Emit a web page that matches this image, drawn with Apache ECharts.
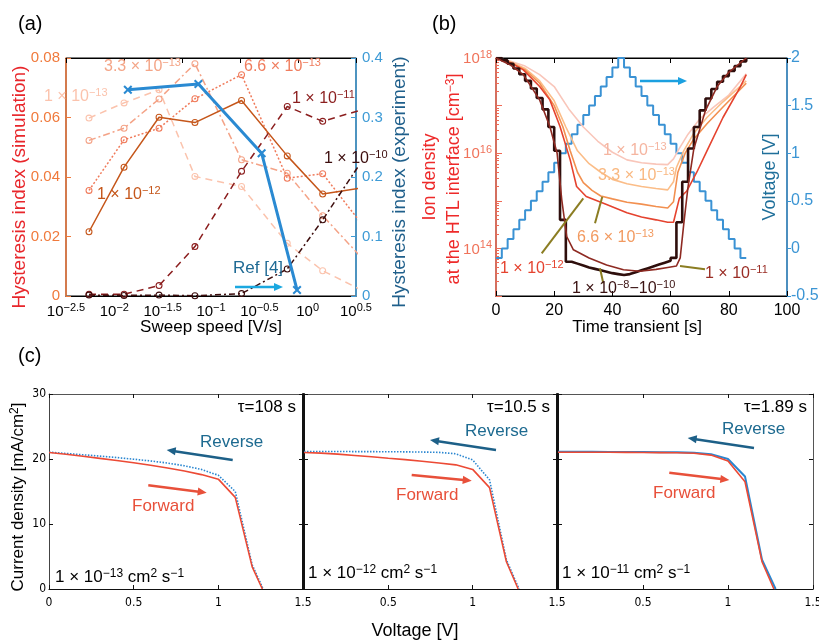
<!DOCTYPE html>
<html><head><meta charset="utf-8">
<script src="https://cdn.jsdelivr.net/npm/echarts@6/dist/echarts.min.js"></script>
<style>html,body{margin:0;padding:0;background:#fff}#c{width:819px;height:641px}</style>
</head><body><div id="c"></div><script>
const FONT = 'Liberation Sans, Arial, sans-serif';
const NARROW = 'Liberation Sans Narrow, DejaVu Sans Condensed, sans-serif';

// ---------- (a) hysteresis index vs sweep speed ----------
const sweepSpeed = [0.00547, 0.0126, 0.029, 0.0682, 0.207, 0.615, 1.43, 3.98];
const hi_1e13  = [0.0598, 0.0649, 0.0693, 0.0402, 0.0368, 0.0177, 0.0085, 0.0013];
const hi_33e13 = [0.0523, 0.0564, 0.0662, 0.0781, 0.0458, 0.0413, 0.0270, 0.0114];
const hi_66e13 = [0.0355, 0.0525, 0.0564, 0.0663, 0.0744, 0.0396, 0.0411, 0.0225];
const hi_1e12  = [0.0216, 0.0433, 0.0601, 0.0583, 0.0657, 0.0471, 0.0343, 0.0365];
const hi_1e11  = [0.0006, 0.0006, 0.0035, 0.0166, 0.0419, 0.0637, 0.0587, 0.0630];
const hi_1e10  = [0.0003, 0.0002, 0.0003, 0.0001, 0.0008, 0.0091, 0.0256, 0.0473];
const expSpeed = [0.0138, 0.0741, 0.334, 0.776];
const expHI    = [0.3467, 0.3563, 0.240, 0.0101];
const speedTickExp = ['−2.5', '−2', '−1.5', '−1', '−0.5', '0', '0.5'];

// ---------- (b) ion density (log10 cm^-3) vs time ----------
const t_1e13 = [0,5,10,15,20,25,30,35,40,45,50,55,59,61,63,66,70,75,80,86];
const n_1e13 = [18,17.93,17.83,17.65,17.4,16.93,16.55,16.25,16.02,15.86,15.8,15.77,15.76,15.88,16.1,16.4,16.72,16.98,17.22,17.67];
const t_33e13 = [0,5,10,15,20,24,28,32,36,40,45,50,55,59,61,62,64.5,68,72.5,78,86];
const n_33e13 = [18,17.92,17.78,17.52,17.1,16.55,16.05,15.78,15.6,15.45,15.36,15.3,15.26,15.23,15.4,15.7,16.05,16.42,16.75,17.08,17.52];
const t_66e13 = [0,5,10,15,20,23,25.5,28,30,33,36,40,45,50,55,59,61,62.5,65,68,72.5,78,86];
const n_66e13 = [18,17.9,17.75,17.47,17.0,16.55,16.05,15.6,15.38,15.22,15.1,15.04,14.97,14.93,14.88,14.85,14.98,15.6,16.0,16.3,16.62,16.97,17.47];
const t_1e12 = [0,5,9.4,15,18.5,22,25.5,27.7,31,38,45,50,55,59,61,63,65.5,69,72.5,78,84,86];
const n_1e12 = [18,17.9,17.75,17.4,17.12,16.56,15.86,15.3,15.09,14.92,14.75,14.66,14.6,14.55,14.55,15.05,15.2,15.6,16.05,16.75,17.4,17.65];
const t_1e11 = [0,5,9.4,15,18.5,21,22.6,24.3,26.6,32,38,43.8,49.5,55,59,62,63.3,64.5,66,68,72,76,80,86];
const n_1e11 = [18,17.85,17.65,17.12,16.56,16.0,15.02,14.25,13.97,13.8,13.65,13.55,13.52,13.56,13.6,13.63,13.8,14.5,15.3,16.1,16.9,17.4,17.7,18.0];
const stepTime = [0,2,4,6,8,10,12,14,16,18,20,22,24,26,28,30,32,34,36,38,40,42,44,46,48,50,52,54,56,58,60,62,64,66,68,70,72,74,76,78,80,82,84,86];
const stepVoltage = [-0.1,0,0.1,0.2,0.3,0.4,0.5,0.6,0.7,0.8,0.9,1.0,1.1,1.2,1.3,1.4,1.5,1.6,1.7,1.8,1.9,2.0,
  1.9,1.8,1.7,1.6,1.5,1.4,1.3,1.2,1.1,1.0,0.9,0.8,0.7,0.6,0.5,0.4,0.3,0.2,0.1,0,-0.1,-0.1];
const n_dark = [18.0,17.95,17.88,17.78,17.66,17.52,17.36,17.16,16.92,16.55,16.05,14.6,13.72,13.68,13.64,13.6,13.57,13.54,13.51,13.48,13.46,13.44,
  13.46,13.5,13.54,13.58,13.62,13.66,13.7,13.74,13.8,14.55,15.4,16.1,16.55,16.9,17.15,17.35,17.5,17.62,17.73,17.83,17.93,18.0];

// ---------- (c) J-V curves ----------
const jvVoltage = [0,0.1,0.2,0.3,0.4,0.5,0.6,0.7,0.8,0.9,1.0,1.1,1.2];
const fwd_1e13 = [21.0,20.72,20.42,20.1,19.77,19.42,19.05,18.62,18.15,17.6,16.9,14.1,3.4];
const rev_1e13 = [21.05,20.85,20.65,20.45,20.22,19.97,19.7,19.38,18.95,18.4,17.5,15.0,3.7];
const fwd_1e12 = [21.0,20.9,20.75,20.55,20.35,20.12,19.9,19.65,19.38,19.1,18.4,15.6,4.2];
const rev_1e12 = [21.15,21.15,21.15,21.14,21.13,21.12,21.1,21.07,21.02,20.8,19.85,16.8,4.5];
const fwd_1e11 = [21.05,21.05,21.04,21.03,21.02,21.0,20.98,20.95,20.88,20.6,19.7,16.5,4.2];
const rev_1e11 = [21.1,21.1,21.1,21.09,21.08,21.07,21.05,21.02,20.95,20.75,20.0,17.3,4.5];
const vocFwd = [1.26, 1.27, 1.27];
const vocRev = [1.265, 1.275, 1.28];

// ---------------------------------------------------------------
const RING = 'path://M0,5A5,5,0,1,0,10,5A5,5,0,1,0,0,5ZM1.5,5A3.5,3.5,0,1,1,8.5,5A3.5,3.5,0,1,1,1.5,5Z';
const CROSS = 'path://M0,1.6L1.6,0L5,3.4L8.4,0L10,1.6L6.6,5L10,8.4L8.4,10L5,6.6L1.6,10L0,8.4L3.4,5Z';

function supRich(color, size, supSize, raise, font) {
  return {
    b: {color, fontSize: size, fontFamily: font || FONT, verticalAlign: 'bottom'},
    s: {color, fontSize: supSize, fontFamily: font || FONT, verticalAlign: 'bottom', padding: [0, 0, raise, 0]}
  };
}

const series = [];
function sim(vals, color, dash, z) {
  series.push({type: 'line', xAxisIndex: 0, yAxisIndex: 0, z: z || 2,
    data: sweepSpeed.map((s, i) => [Math.log10(s), vals[i]]),
    symbol: RING, symbolSize: 7, lineStyle: {color, width: 1.5, type: dash},
    itemStyle: {color}, silent: true});
}
sim(hi_1e13, '#fbc3ad', [7, 5]);
sim(hi_33e13, '#f4a387', [7, 3, 2, 3]);
sim(hi_66e13, '#f07a5a', [2, 2]);
sim(hi_1e12, '#c5561a', 'solid', 3);
sim(hi_1e11, '#8b1e1e', [7, 5], 3);
sim(hi_1e10, '#3c0d0d', [6, 3, 2, 3], 3);
series.push({type: 'line', xAxisIndex: 0, yAxisIndex: 1, z: 5,
  data: expSpeed.map((s, i) => [Math.log10(s), expHI[i]]),
  symbol: CROSS, symbolSize: 9, lineStyle: {color: '#2a8ad2', width: 3}, itemStyle: {color: '#2a8ad2'}});

function ion(t, n, color, width, step) {
  series.push({type: 'line', xAxisIndex: 2, yAxisIndex: 2, showSymbol: false, symbol: 'none',
    step: step || false, data: t.map((x, i) => [x, Math.pow(10, n[i])]),
    lineStyle: {color, width: width || 1.6}});
}
series.push({type: 'line', xAxisIndex: 2, yAxisIndex: 3, symbol: 'none', step: 'end', z: 1,
  data: stepTime.map((x, i) => [x, stepVoltage[i]]), lineStyle: {color: '#3a92d4', width: 2}});
ion(t_1e13, n_1e13, '#f9c6ba');
ion(t_33e13, n_33e13, '#fbbd88');
ion(t_66e13, n_66e13, '#f29050');
ion(t_1e12, n_1e12, '#e5432f');
ion(stepTime, n_dark, '#2e0e0c', 2.6, 'end');
ion(t_1e11, n_1e11, '#8e2a22', 1.6);

const fwdSets = [fwd_1e13, fwd_1e12, fwd_1e11];
const revSets = [rev_1e13, rev_1e12, rev_1e11];
for (let k = 0; k < 3; k++) {
  series.push({type: 'line', xAxisIndex: 4 + k, yAxisIndex: 4 + k, symbol: 'none', z: 2,
    data: jvVoltage.map((v, i) => [v, revSets[k][i]]).concat([[vocRev[k], 0]]),
    lineStyle: {color: '#2a86d0', width: k === 2 ? 2 : 1.6, type: k === 2 ? 'solid' : [1.5, 1.5]}});
  series.push({type: 'line', xAxisIndex: 4 + k, yAxisIndex: 4 + k, symbol: 'none', z: 3,
    data: jvVoltage.map((v, i) => [v, fwdSets[k][i]]).concat([[vocFwd[k], 0]]),
    lineStyle: {color: '#ec4a35', width: 1.6}});
}

// ---------------- axes ----------------
const noSplit = {show: false};
const xAxis = [
  {type: 'value', gridIndex: 0, min: -2.5, max: 0.5, interval: 0.5, splitLine: noSplit,
    axisLine: {onZero: false, lineStyle: {color: '#000'}}, axisTick: {show: false},
    axisLabel: {margin: 6, hideOverlap: false, formatter: v => '{b|10}{s|' + speedTickExp[Math.round((v + 2.5) / 0.5)] + '}',
      rich: supRich('#000', 15, 11, 6)}},
  {type: 'value', gridIndex: 0, position: 'top', min: 0, max: 5, interval: 1, splitLine: noSplit,
    axisLine: {onZero: false, lineStyle: {color: '#000'}}, axisTick: {inside: true, length: 5, lineStyle: {color: '#000'}}, axisLabel: {show: false}},
  {type: 'value', gridIndex: 1, min: 0, max: 100, interval: 20, splitLine: noSplit,
    axisLine: {onZero: false, lineStyle: {color: '#000'}}, axisTick: {inside: true, length: 5, lineStyle: {color: '#000'}},
    axisLabel: {color: '#000', fontSize: 16, fontFamily: FONT, margin: 7}},
  {type: 'value', gridIndex: 1, position: 'top', min: 0, max: 100, interval: 20, splitLine: noSplit,
    axisLine: {onZero: false, lineStyle: {color: '#000'}}, axisTick: {inside: true, length: 5, lineStyle: {color: '#000'}}, axisLabel: {show: false}}
];
for (let k = 0; k < 3; k++) {
  xAxis.push({type: 'value', gridIndex: 2 + k, min: 0, max: 1.5, interval: 0.5, splitLine: noSplit,
    axisLine: {onZero: false, lineStyle: {color: '#111', width: 1.2}}, axisTick: {inside: true, length: 4, lineStyle: {color: '#111'}},
    axisLabel: {color: '#000', fontSize: 12, fontFamily: NARROW, margin: 8, hideOverlap: false,
      formatter: v => (k > 0 && v === 0) ? '' : String(v)}});
}
for (let k = 0; k < 3; k++) {
  xAxis.push({type: 'value', gridIndex: 2 + k, position: 'top', min: 0, max: 1.5, interval: 0.5, splitLine: noSplit,
    axisLine: {onZero: false, lineStyle: {color: '#555'}}, axisTick: {inside: true, length: 4, lineStyle: {color: '#111'}}, axisLabel: {show: false}});
}
const yAxis = [
  {type: 'value', gridIndex: 0, min: 0, max: 0.08, interval: 0.02, splitLine: noSplit,
    axisLine: {onZero: false, lineStyle: {color: '#f07a3c', width: 1.5}}, axisTick: {inside: true, length: 5, lineStyle: {color: '#f07a3c'}},
    axisLabel: {color: '#f07a3c', fontSize: 15, fontFamily: FONT, margin: 6, formatter: v => String(+v.toFixed(2))}},
  {type: 'value', gridIndex: 0, position: 'right', min: 0, max: 0.4, interval: 0.1, splitLine: noSplit,
    axisLine: {onZero: false, lineStyle: {color: '#3e9bd6', width: 1.5}}, axisTick: {inside: true, length: 5, lineStyle: {color: '#3e9bd6'}},
    axisLabel: {color: '#3e9bd6', fontSize: 15, fontFamily: FONT, margin: 6, formatter: v => String(+v.toFixed(1))}},
  {type: 'log', logBase: 10, gridIndex: 1, min: 1e13, max: 1e18, splitLine: noSplit,
    axisLine: {onZero: false, lineStyle: {color: '#f06a55', width: 1.5}}, axisTick: {inside: true, length: 6, lineStyle: {color: '#f06a55'}},
    minorTick: {show: true, splitNumber: 9, length: 3, lineStyle: {color: '#f06a55'}},
    axisLabel: {margin: 4, hideOverlap: false, rich: supRich('#f0735a', 15, 11, 6),
      formatter: v => { const e = Math.round(Math.log10(v)); return e % 2 === 0 ? '{b|10}{s|' + e + '}' : ''; }}},
  {type: 'value', gridIndex: 1, position: 'right', min: -0.5, max: 2, interval: 0.5, splitLine: noSplit,
    axisLine: {onZero: false, lineStyle: {color: '#3b95d4', width: 1.5}}, axisTick: {length: 4, lineStyle: {color: '#3b95d4'}},
    axisLabel: {color: '#3b95d4', fontSize: 16, fontFamily: FONT, margin: 4}}
];
for (let k = 0; k < 3; k++) {
  yAxis.push({type: 'value', gridIndex: 2 + k, min: 0, max: 30, interval: 10, splitLine: noSplit,
    axisLine: {onZero: false, lineStyle: {color: k === 0 ? '#444' : '#111', width: k === 0 ? 1 : 2}},
    axisTick: {inside: true, length: 4, lineStyle: {color: '#111'}},
    axisLabel: {show: k === 0, color: '#000', fontSize: 12, fontFamily: NARROW, margin: 3}});
}
for (let k = 0; k < 3; k++) {
  yAxis.push({type: 'value', gridIndex: 2 + k, position: 'right', min: 0, max: 30, interval: 10, splitLine: noSplit,
    axisLine: {onZero: false, lineStyle: {color: k === 2 ? '#555' : '#111', width: k === 2 ? 1 : 2}},
    axisTick: {inside: true, length: 4, lineStyle: {color: '#111'}}, axisLabel: {show: false}});
}

// ---------------- annotations ----------------
const G = [];
function T(x, y, text, o) {
  o = o || {};
  const st = {text, fill: o.color || '#000', fontSize: o.size || 16, fontFamily: o.font || FONT,
    align: o.align || 'left', verticalAlign: 'middle'};
  if (o.rich) st.rich = o.rich;
  G.push({type: 'text', x, y, rotation: o.rot || 0, z: 100, silent: true, style: st});
}
function ST(x, y, text, color, size, supSize, raise, o) {
  o = o || {};
  T(x, y, text, Object.assign({rich: supRich(color, size, supSize, raise, o.font), color}, o));
}
function arrow(x1, y1, x2, y2, color, w, head) {
  const a = Math.atan2(y2 - y1, x2 - x1);
  const hx = x2 - head * Math.cos(a), hy = y2 - head * Math.sin(a);
  const px = -Math.sin(a) * head * 0.45, py = Math.cos(a) * head * 0.45;
  G.push({type: 'line', z: 100, silent: true, shape: {x1, y1, x2: hx + Math.cos(a), y2: hy + Math.sin(a)}, style: {stroke: color, lineWidth: w}});
  G.push({type: 'polygon', z: 100, silent: true, shape: {points: [[x2, y2], [hx + px, hy + py], [hx - px, hy - py]]}, style: {fill: color}});
}
function seg(x1, y1, x2, y2, color, w) {
  G.push({type: 'line', z: 99, silent: true, shape: {x1, y1, x2, y2}, style: {stroke: color, lineWidth: w}});
}

// panel labels and titles
T(18, 24, '(a)', {size: 20});
T(432, 24, '(b)', {size: 20});
T(18, 356, '(c)', {size: 20});
T(20, 187, 'Hysteresis index (simulation)', {rot: Math.PI / 2, align: 'center', size: 19, color: '#e8262b'});
T(400, 182, 'Hysteresis index (experiment)', {rot: Math.PI / 2, align: 'center', size: 19, color: '#1f5f8b'});
T(211, 327, 'Sweep speed [V/s]', {align: 'center', size: 17});
T(430, 177, 'Ion density', {rot: Math.PI / 2, align: 'center', size: 18, color: '#ee2a2a'});
ST(454, 179, '{b|at the HTL interface [cm}{s|−3}{b|]}', '#ee2a2a', 18, 12, 6, {rot: Math.PI / 2, align: 'center'});
T(770, 177, 'Voltage [V]', {rot: Math.PI / 2, align: 'center', size: 18, color: '#1f6f9a'});
T(637, 327, 'Time transient [s]', {align: 'center', size: 17});
ST(18, 497, '{b|Current density [mA/cm}{s|2}{b|]}', '#000', 17, 12, 6, {rot: Math.PI / 2, align: 'center'});
T(415, 631, 'Voltage [V]', {align: 'center', size: 18});

// (a) annotations
ST(44, 96, '{b|1 × 10}{s|−13}', '#fbc3ad', 16, 11, 6);
ST(104, 66, '{b|3.3 × 10}{s|−13}', '#f4a587', 16, 11, 6);
ST(244, 66, '{b|6.6 × 10}{s|−13}', '#f07d5e', 16, 11, 6);
ST(292, 98, '{b|1 × 10}{s|−11}', '#8b1e1e', 16, 11, 6);
ST(324, 158, '{b|1 × 10}{s|−10}', '#3c0d0d', 16, 11, 6);
ST(97, 194, '{b|1 × 10}{s|−12}', '#c5561a', 16, 11, 6);
T(233, 268, 'Ref [4]', {size: 17, color: '#1f6a94'});
arrow(235, 287, 283, 287, '#1ba8e0', 2.5, 9);

// (b) annotations
ST(603, 150, '{b|1 × 10}{s|−13}', '#f5b5a0', 16, 11, 6);
ST(598, 175, '{b|3.3 × 10}{s|−13}', '#f9b880', 16, 11, 6);
ST(577, 237, '{b|6.6 × 10}{s|−13}', '#f29a60', 16, 11, 6);
ST(500, 268, '{b|1 × 10}{s|−12}', '#e5432f', 16, 11, 6);
ST(572, 288, '{b|1 × 10}{s|−8}{b|−10}{s|−10}', '#3a1212', 16, 11, 6);
ST(705, 273, '{b|1 × 10}{s|−11}', '#9a2d25', 16, 11, 6);
seg(541.7, 253.3, 583.3, 198.3, '#8b7d22', 2);
seg(602.3, 196.7, 595, 223.3, '#8b7d22', 2);
seg(600, 268.3, 603.3, 283.3, '#8b7d22', 2);
seg(680, 266, 705, 269.3, '#8b7d22', 2);
arrow(640, 81, 687, 81, '#1ba0e0', 2.5, 9);

// (c) annotations
const tauTxt = ['τ=108 s', 'τ=10.5 s', 'τ=1.89 s'];
const tauX = [296, 550, 807];
const dLbl = ['−13', '−12', '−11'];
const dX = [55, 308, 562];
const dY = [577, 573, 573];
const revPos = [[200, 442], [465, 431], [722, 429]];
const fwdPos = [[132, 506], [396, 495], [653, 493]];
const revArr = [[232.7, 460, 166.7, 450], [496, 450, 430, 440], [754, 448, 687.7, 438]];
const fwdArr = [[148.3, 485.3, 206.7, 492.7], [411.7, 475, 471.7, 480.7], [669.3, 472.7, 729.3, 480]];
for (let k = 0; k < 3; k++) {
  T(tauX[k], 407, tauTxt[k], {size: 17, align: 'right'});
  ST(dX[k], dY[k], '{b|1 × 10}{s|' + dLbl[k] + '}{b| cm}{s|2}{b| s}{s|−1}', '#000', 17, 12, 6);
  T(revPos[k][0], revPos[k][1], 'Reverse', {size: 17, color: '#1d6a90'});
  T(fwdPos[k][0], fwdPos[k][1], 'Forward', {size: 17, color: '#e8503a'});
  arrow(...revArr[k], '#1d6088', 2.5, 9);
  arrow(...fwdArr[k], '#e8503a', 2.5, 9);
}

const chart = echarts.init(document.getElementById('c'), null, {renderer: 'canvas', width: 819, height: 641});
chart.setOption({
  animation: false,
  backgroundColor: '#fff',
  textStyle: {fontFamily: FONT},
  grid: [
    {left: 66, top: 58, width: 290, height: 238, show: true, borderColor: '#000', borderWidth: 1, containLabel: false, outerBoundsMode: 'none'},
    {left: 496, top: 58, width: 291, height: 238, show: true, borderColor: '#000', borderWidth: 1, containLabel: false, outerBoundsMode: 'none'},
    {left: 49, top: 394, width: 254, height: 195, show: false, containLabel: false, outerBoundsMode: 'none'},
    {left: 304, top: 394, width: 253, height: 195, show: false, containLabel: false, outerBoundsMode: 'none'},
    {left: 558, top: 394, width: 255, height: 195, show: false, containLabel: false, outerBoundsMode: 'none'}
  ],
  xAxis, yAxis, series, graphic: G
});
</script></body></html>
